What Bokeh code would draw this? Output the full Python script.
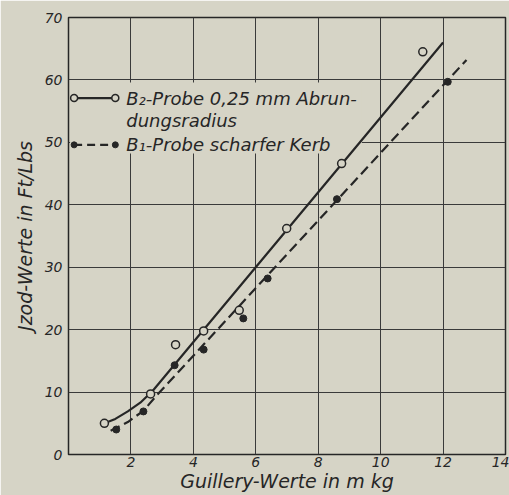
from bokeh.plotting import figure
from bokeh.models import Range1d, FixedTicker, BoxAnnotation, Label
from bokeh.embed import file_html
from bokeh.resources import INLINE

# ---- data ----
b2_x = [1.15, 2.63, 3.43, 4.33, 5.47, 6.99, 8.75, 11.35]
b2_y = [5.0, 9.7, 17.6, 19.8, 23.1, 36.2, 46.6, 64.5]
b1_x = [1.53, 2.40, 3.40, 4.33, 5.60, 6.38, 8.60, 12.15]
b1_y = [4.0, 6.9, 14.3, 16.8, 21.8, 28.2, 40.9, 59.7]
b2_curve_x = [1.15, 1.5, 1.9, 2.3, 2.7, 12.0]
b2_curve_y = [5.0, 5.7, 6.9, 8.3, 10.2, 66.0]
b1_curve_x = [1.35, 1.9, 2.4, 2.85, 12.75]
b1_curve_y = [3.8, 5.2, 7.0, 9.6, 63.2]
x_ticks = [2, 4, 6, 8, 10, 12, 14]
y_ticks = [0, 10, 20, 30, 40, 50, 60, 70]
label_b2 = ["B\u2082-Probe 0,25 mm Abrun-", "dungsradius"]
label_b1 = "B\u2081-Probe scharfer Kerb"

PAPER = "#d6d4c6"
INK = "#262626"
FONT = "DejaVu Sans"

p = figure(width=509, height=495, output_backend="svg", toolbar_location=None,
           x_range=Range1d(0, 14), y_range=Range1d(0, 70),
           min_border_left=68, min_border_right=4, min_border_top=17, min_border_bottom=41)
p.background_fill_color = PAPER
p.border_fill_color = PAPER
p.outline_line_color = INK
p.outline_line_width = 1.5

p.xaxis.ticker = FixedTicker(ticks=x_ticks)
p.yaxis.ticker = FixedTicker(ticks=y_ticks)
for ax in (p.xaxis, p.yaxis):
    ax.axis_line_color = None
    ax.major_tick_line_color = None
    ax.minor_tick_line_color = None
    ax.major_tick_out = 0
    ax.major_tick_in = 0
    ax.minor_tick_out = 0
    ax.minor_tick_in = 0
    ax.major_label_text_font = FONT
    ax.major_label_text_font_style = "italic"
    ax.major_label_text_font_size = "14px"
    ax.major_label_text_color = INK
    ax.axis_label_text_font = FONT
    ax.axis_label_text_font_style = "italic"
    ax.axis_label_text_font_size = "19px"
    ax.axis_label_text_color = INK
p.xaxis.axis_label = "Guillery-Werte in m kg"
p.yaxis.axis_label = "Jzod-Werte in Ft/Lbs"
p.xaxis.major_label_standoff = 2
p.yaxis.major_label_standoff = 6
p.xaxis.axis_label_standoff = 0
p.yaxis.axis_label_standoff = 6

p.grid.grid_line_color = "#3a3a3a"
p.grid.grid_line_width = 1

# legend background patch (covers grid)
p.add_layout(BoxAnnotation(left=0.05, right=9.4, bottom=48.2, top=59.6,
                           fill_color=PAPER, fill_alpha=1.0, line_color=None,
                           level="underlay"))

# fitted lines
p.line(b2_curve_x, b2_curve_y, line_color=INK, line_width=2.2)
p.line(b1_curve_x, b1_curve_y, line_color=INK, line_width=2.2, line_dash="10 5")

# points
p.scatter(b2_x, b2_y, marker="circle", size=8, fill_color=PAPER,
          line_color=INK, line_width=1.5)
p.scatter(b1_x, b1_y, marker="circle", size=7, fill_color=INK,
          line_color=INK)

# legend (manual, as drawn in the original)
lx0, lx1 = 0.18, 1.5
ly_b2, ly_b1 = 57.1, 49.6
p.line([lx0, lx1], [ly_b2, ly_b2], line_color=INK, line_width=2.2)
p.scatter([lx0, lx1], [ly_b2, ly_b2], marker="circle", size=7, fill_color=PAPER,
          line_color=INK, line_width=1.5)
p.line([lx0, lx1], [ly_b1, ly_b1], line_color=INK, line_width=2.2, line_dash="8 5")
p.scatter([lx0, lx1], [ly_b1, ly_b1], marker="circle", size=6, fill_color=INK,
          line_color=INK)

tx = 1.85
for txt, ty in ((label_b2[0], ly_b2), (label_b2[1], 53.5), (label_b1, ly_b1)):
    p.add_layout(Label(x=tx, y=ty, text=txt, text_font=FONT, text_font_style="italic",
                       text_font_size="18px", text_color=INK, text_baseline="middle",
                       text_align="left"))

open("out.html", "w").write(file_html(p, INLINE))
